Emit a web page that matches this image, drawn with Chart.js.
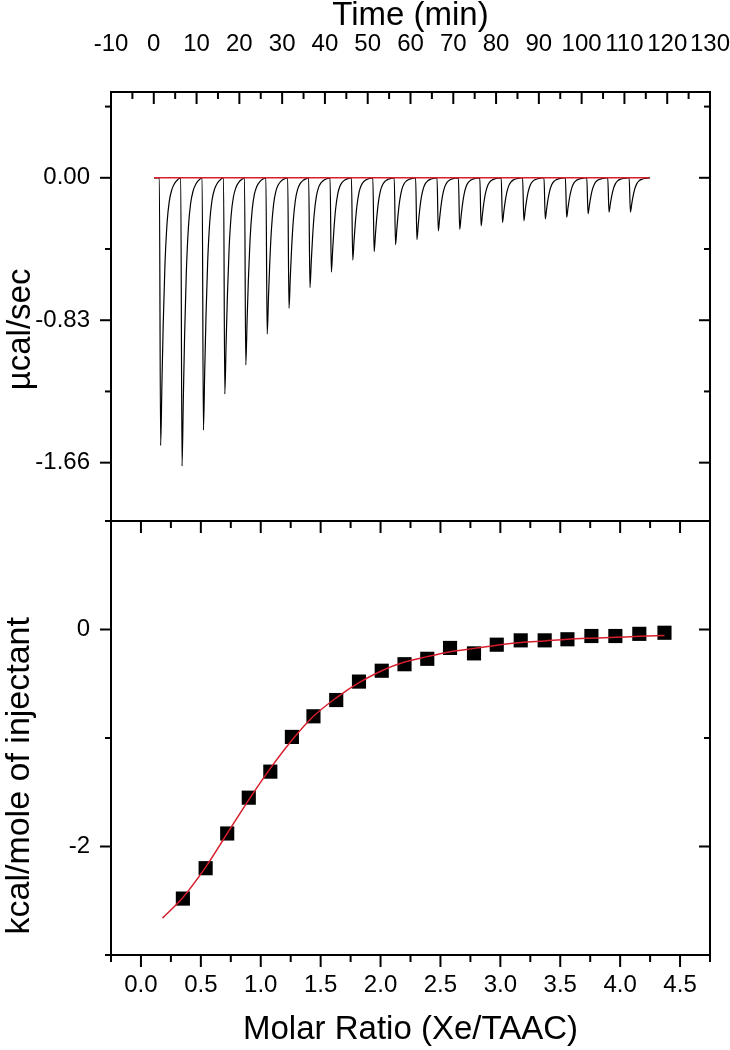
<!DOCTYPE html>
<html><head><meta charset="utf-8">
<script src="https://cdn.jsdelivr.net/npm/chart.js@4.4.1/dist/chart.umd.min.js"></script>
<style>
html,body{margin:0;padding:0;background:#fff;}
#wrap{position:relative;width:730px;height:1050px;background:#fff;}
#c1{position:absolute;left:0;top:0;}
#c2{position:absolute;left:0;top:500px;}
</style></head><body>
<div id="wrap"><canvas id="c1" width="730" height="530"></canvas><canvas id="c2" width="730" height="550"></canvas></div>
<script>
// ---------- top panel: raw thermogram ----------
const injectionPeakTimes = [1.6, 6.6, 11.6, 16.6, 21.5, 26.5, 31.6, 36.5, 41.5, 46.5, 51.5, 56.5, 61.5, 66.5, 71.5, 76.5, 81.5, 86.5, 91.5, 96.5, 101.5, 106.4, 111.4];
const injectionPeakHeights = [-1.56, -1.68, -1.47, -1.26, -1.09, -0.91, -0.76, -0.64, -0.55, -0.48, -0.43, -0.39, -0.36, -0.31, -0.30, -0.28, -0.26, -0.25, -0.24, -0.23, -0.21, -0.20, -0.20];
const peakOnsetMinutes = 0.3;
const peakRecoveryMinutes = [0, 0.3, 0.6, 1.0, 1.5, 2.0, 2.6, 3.3, 4.0, 4.6];
const peakRecoveryFraction = [1, 0.77, 0.55, 0.33, 0.17, 0.09, 0.045, 0.02, 0.007, 0];
const traceStartTime = 0.05;
const baselineTimes = [0.05, 115.8];
const baselineValues = [0, 0];
const timeTicks = [-10, 0, 10, 20, 30, 40, 50, 60, 70, 80, 90, 100, 110, 120, 130];
const timeMinorTicks = [-5, 5, 15, 25, 35, 45, 55, 65, 75, 85, 95, 105, 115, 125];
const heatRateTicks = [0, -0.83, -1.66];
const heatRateMinorTicks = [0.415, -0.415, -1.245];

// ---------- bottom panel: integrated heats ----------
const molarRatio = [0.35, 0.54, 0.72, 0.90, 1.08, 1.26, 1.44, 1.63, 1.82, 2.01, 2.20, 2.39, 2.58, 2.78, 2.97, 3.17, 3.37, 3.56, 3.76, 3.96, 4.16, 4.37];
const heatPerMole = [-2.48, -2.20, -1.88, -1.55, -1.31, -0.99, -0.80, -0.65, -0.48, -0.38, -0.32, -0.27, -0.17, -0.22, -0.14, -0.10, -0.10, -0.09, -0.06, -0.06, -0.04, -0.03];
const fitRatio = [0.18, 0.35, 0.54, 0.72, 0.90, 1.08, 1.26, 1.44, 1.63, 1.82, 2.01, 2.20, 2.39, 2.58, 2.78, 2.97, 3.17, 3.37, 3.56, 3.76, 3.96, 4.16, 4.37];
const fitHeat = [-2.66, -2.47, -2.19, -1.88, -1.57, -1.28, -1.02, -0.80, -0.63, -0.49, -0.38, -0.30, -0.25, -0.205, -0.174, -0.145, -0.12, -0.105, -0.09, -0.08, -0.072, -0.063, -0.056];
const ratioTicks = [0, 0.5, 1.0, 1.5, 2.0, 2.5, 3.0, 3.5, 4.0, 4.5];
const ratioMinorTicks = [-0.25, 0.25, 0.75, 1.25, 1.75, 2.25, 2.75, 3.25, 3.75, 4.25, 4.75];
const heatTicks = [0, -2];
const heatMinorTicks = [1, -1, -3];

// ---------- build datasets ----------
const trace = [{x: traceStartTime, y: 0}];
injectionPeakTimes.forEach((t, i) => {
  trace.push({x: t - peakOnsetMinutes, y: 0});
  peakRecoveryMinutes.forEach((dt, j) => trace.push({x: t + dt, y: injectionPeakHeights[i] * peakRecoveryFraction[j]}));
});
const baseline = baselineTimes.map((t, i) => ({x: t, y: baselineValues[i]}));
const points = molarRatio.map((r, i) => ({x: r, y: heatPerMole[i]}));
const fit = fitRatio.map((r, i) => ({x: r, y: fitHeat[i]}));

const FONT = "'Liberation Sans', Arial, Helvetica, sans-serif";
const RED = 'rgb(215,30,45)';
const MAJ = 11, MIN = 6;

const frameTicks = {
  id: 'frameTicks',
  afterDatasetsDraw(chart, args, o) {
    const ctx = chart.ctx, a = chart.chartArea;
    const xs = chart.scales.x, ys = chart.scales.y;
    ctx.save();
    ctx.strokeStyle = '#000';
    ctx.lineWidth = 2;
    ctx.lineCap = 'butt';
    ctx.strokeRect(a.left, a.top, a.right - a.left, a.bottom - a.top);
    const line = (x1, y1, x2, y2) => { ctx.beginPath(); ctx.moveTo(x1, y1); ctx.lineTo(x2, y2); ctx.stroke(); };
    const xt = (vals, len) => vals.forEach(v => {
      const p = xs.getPixelForValue(v);
      if (o.top === 'in') line(p, a.top, p, a.top + len);
      if (o.bottom === 'out') line(p, a.bottom, p, a.bottom + len);
    });
    const yt = (vals, len) => vals.forEach(v => {
      const p = ys.getPixelForValue(v);
      if (p < a.top - 1 || p > a.bottom + 1) return;
      line(a.left - len, p, a.left, p);
      line(a.right - len, p, a.right, p);
    });
    xt(o.xMajor, MAJ + 1); xt(o.xMinor, MIN + 1);
    yt(o.yMajor, MAJ); yt(o.yMinor, MIN);
    ctx.restore();
  }
};

const noPad = s => { s.paddingLeft = 0; s.paddingRight = 0; s.paddingTop = 0; s.paddingBottom = 0; };
const tickFont = {family: FONT, size: 24};
const titleFont = {family: FONT, size: 33};

new Chart(document.getElementById('c1'), {
  type: 'line',
  data: {datasets: [
    {data: baseline, borderColor: RED, borderWidth: 1.5, pointRadius: 0, order: 0},
    {data: trace, borderColor: '#000', borderWidth: 1.2, pointRadius: 0, cubicInterpolationMode: 'monotone', order: 1}
  ]},
  options: {
    responsive: false, animation: false, events: [],
    layout: {padding: {left: 0, right: 20, top: 0, bottom: 9}},
    plugins: {legend: {display: false}, tooltip: {enabled: false},
      frameTicks: {top: 'in', bottom: 'none', xMajor: timeTicks, xMinor: timeMinorTicks, yMajor: heatRateTicks, yMinor: heatRateMinorTicks}},
    scales: {
      x: {type: 'linear', position: 'top', min: -10, max: 130,
        afterBuildTicks: s => { s.ticks = timeTicks.map(v => ({value: v})); },
        afterFit: s => { s.height = 92; noPad(s); },
        grid: {display: false, drawTicks: false}, border: {display: false},
        ticks: {font: tickFont, color: '#000', padding: 33, maxRotation: 0, minRotation: 0, autoSkip: false, callback: v => String(v)},
        title: {display: true, text: 'Time (min)', font: titleFont, color: '#000', padding: {top: -4, bottom: 0}}},
      y: {type: 'linear', min: -2.0, max: 0.5,
        afterBuildTicks: s => { s.ticks = heatRateTicks.map(v => ({value: v})); },
        afterFit: s => { s.width = 111; noPad(s); },
        grid: {display: false, drawTicks: false}, border: {display: false},
        ticks: {font: tickFont, color: '#000', padding: 21, callback: v => v.toFixed(2)},
        title: {display: true, text: 'µcal/sec     ', font: titleFont, color: '#000', padding: {top: 1, bottom: 0}}}
    }
  },
  plugins: [frameTicks]
});

new Chart(document.getElementById('c2'), {
  type: 'scatter',
  data: {datasets: [
    {type: 'line', data: fit, borderColor: RED, borderWidth: 1.5, pointRadius: 0, cubicInterpolationMode: 'monotone', order: 0},
    {data: points, pointStyle: 'rect', pointRadius: 10, backgroundColor: '#000', borderColor: '#000', borderWidth: 0, order: 1}
  ]},
  options: {
    responsive: false, animation: false, events: [],
    layout: {padding: {left: 0, right: 20, top: 21, bottom: 0}},
    plugins: {legend: {display: false}, tooltip: {enabled: false},
      frameTicks: {top: 'in', bottom: 'out', xMajor: ratioTicks, xMinor: ratioMinorTicks, yMajor: heatTicks, yMinor: heatMinorTicks}},
    scales: {
      x: {type: 'linear', position: 'bottom', min: -0.25, max: 4.75,
        afterBuildTicks: s => { s.ticks = ratioTicks.map(v => ({value: v})); },
        afterFit: s => { s.height = 95; noPad(s); },
        grid: {display: false, drawTicks: false}, border: {display: false},
        ticks: {font: tickFont, color: '#000', padding: 16, maxRotation: 0, minRotation: 0, autoSkip: false, callback: v => v.toFixed(1)},
        title: {display: true, text: 'Molar Ratio (Xe/TAAC)', font: titleFont, color: '#000', padding: {top: 0, bottom: 0}}},
      y: {type: 'linear', min: -3.0, max: 1.0,
        afterBuildTicks: s => { s.ticks = heatTicks.map(v => ({value: v})); },
        afterFit: s => { s.width = 111; noPad(s); },
        grid: {display: false, drawTicks: false}, border: {display: false},
        ticks: {font: tickFont, color: '#000', padding: 21, callback: v => String(v)},
        title: {display: true, text: 'kcal/mole of injectant        ', font: {family: FONT, size: 34}, color: '#000', padding: {top: -1, bottom: 0}}}
    }
  },
  plugins: [frameTicks]
});
</script>
</body></html>
